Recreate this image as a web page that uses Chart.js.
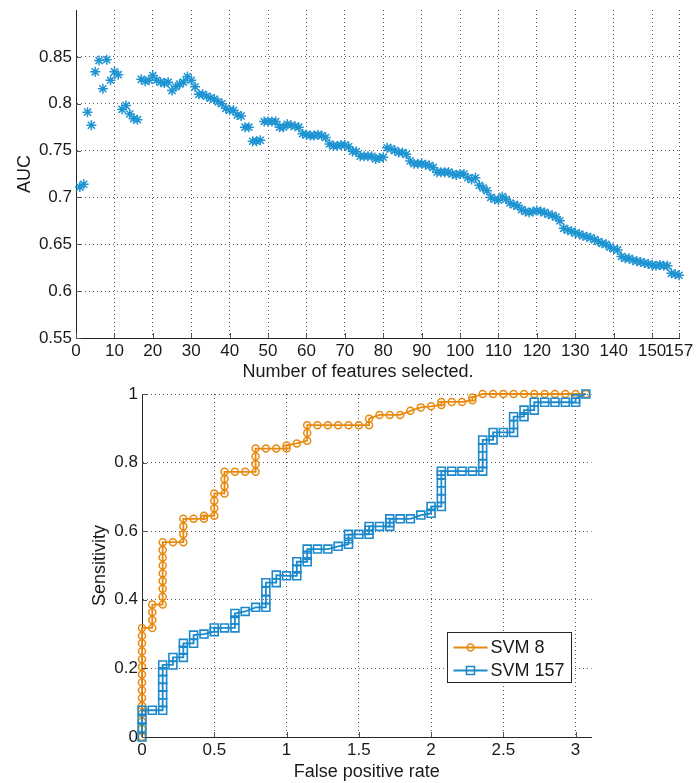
<!DOCTYPE html>
<html>
<head>
<meta charset="utf-8">
<script src="https://cdn.jsdelivr.net/npm/chart.js@4.4.0/dist/chart.umd.min.js"></script>
<style>
  html, body { margin: 0; padding: 0; background: #fff; }
  #wrap { position: relative; width: 696px; height: 783px; }
  #wrap canvas { position: absolute; left: 0; }
  #auc-chart { top: 0; }
  #roc-chart { top: 380px; }
</style>
</head>
<body>
<div id="wrap">
  <canvas id="auc-chart" width="696" height="384"></canvas>
  <canvas id="roc-chart" width="696" height="403"></canvas>
</div>
<script>
// AUC for 1..157 selected features
const aucValues = [
  0.711, 0.714, 0.791, 0.777, 0.834, 0.846, 0.816, 0.847, 0.825, 0.834,
  0.831, 0.794, 0.798, 0.789, 0.784, 0.783, 0.826, 0.824, 0.825, 0.830,
  0.825, 0.823, 0.822, 0.823, 0.814, 0.818, 0.821, 0.823, 0.829, 0.825,
  0.818, 0.810, 0.810, 0.808, 0.806, 0.805, 0.802, 0.800, 0.795, 0.793,
  0.793, 0.788, 0.787, 0.775, 0.775, 0.760, 0.760, 0.761, 0.781, 0.781,
  0.781, 0.781, 0.775, 0.775, 0.778, 0.777, 0.776, 0.775, 0.768, 0.767,
  0.766, 0.766, 0.767, 0.766, 0.764, 0.757, 0.755, 0.755, 0.756, 0.756,
  0.754, 0.749, 0.749, 0.744, 0.744, 0.744, 0.744, 0.741, 0.742, 0.743,
  0.753, 0.752, 0.750, 0.748, 0.748, 0.746, 0.739, 0.736, 0.736, 0.736,
  0.735, 0.734, 0.732, 0.727, 0.727, 0.727, 0.727, 0.725, 0.724, 0.725,
  0.725, 0.721, 0.719, 0.721, 0.713, 0.710, 0.707, 0.700, 0.698, 0.697,
  0.701, 0.698, 0.694, 0.692, 0.691, 0.687, 0.685, 0.684, 0.685, 0.686,
  0.685, 0.684, 0.682, 0.681, 0.679, 0.675, 0.667, 0.665, 0.664, 0.662,
  0.661, 0.659, 0.658, 0.657, 0.655, 0.653, 0.651, 0.650, 0.647, 0.645,
  0.644, 0.637, 0.635, 0.635, 0.633, 0.632, 0.631, 0.630, 0.629, 0.628,
  0.627, 0.628, 0.627, 0.627, 0.619, 0.618, 0.617
];
const aucTicks = [0.55, 0.6, 0.65, 0.7, 0.75, 0.8, 0.85];
const featureTicks = [0, 10, 20, 30, 40, 50, 60, 70, 80, 90, 100, 110, 120, 130, 140, 150, 157];

// ROC curves
const svm8Fpr = [
  0, 0, 0, 0, 0, 0, 0, 0, 0, 0, 0, 0, 0, 0, 0,
  0.071, 0.071, 0.071, 0.071,
  0.143, 0.143, 0.143, 0.143, 0.143, 0.143, 0.143, 0.143, 0.143,
  0.214,
  0.286, 0.286, 0.286, 0.286,
  0.357,
  0.429, 0.429,
  0.5, 0.5, 0.5, 0.5,
  0.571, 0.571, 0.571, 0.571,
  0.643, 0.714,
  0.786, 0.786, 0.786, 0.786,
  0.857, 0.929,
  1, 1,
  1.071,
  1.143, 1.143, 1.143,
  1.214, 1.286, 1.357, 1.429, 1.5,
  1.571, 1.571,
  1.643, 1.714, 1.786,
  1.857, 1.929, 2,
  2.071, 2.071,
  2.143, 2.214,
  2.286, 2.286,
  2.357, 2.429, 2.5, 2.571, 2.643, 2.714, 2.786, 2.857, 2.929, 3, 3.071
];
const svm8Tpr = [
  0, 0.023, 0.045, 0.068, 0.091, 0.114, 0.136, 0.159, 0.182, 0.205, 0.227, 0.25, 0.273, 0.295, 0.318,
  0.318, 0.341, 0.364, 0.386,
  0.386, 0.409, 0.432, 0.455, 0.477, 0.5, 0.523, 0.545, 0.568,
  0.568,
  0.568, 0.591, 0.614, 0.636,
  0.636,
  0.636, 0.645,
  0.645, 0.667, 0.689, 0.71,
  0.71, 0.731, 0.752, 0.773,
  0.773, 0.773,
  0.773, 0.795, 0.818, 0.841,
  0.841, 0.841,
  0.841, 0.85,
  0.856,
  0.864, 0.886, 0.909,
  0.909, 0.909, 0.909, 0.909, 0.909,
  0.909, 0.928,
  0.939, 0.939, 0.939,
  0.951, 0.961, 0.964,
  0.968, 0.977,
  0.977, 0.977,
  0.982, 0.99,
  1, 1, 1, 1, 1, 1, 1, 1, 1, 1, 1
];
const svm157Fpr = [
  0, 0, 0, 0,
  0.071,
  0.143, 0.143, 0.143, 0.143, 0.143, 0.143, 0.143,
  0.214, 0.214,
  0.286, 0.286, 0.286,
  0.357, 0.357,
  0.429,
  0.5, 0.5,
  0.571,
  0.643, 0.643, 0.643,
  0.714,
  0.786,
  0.857, 0.857, 0.857, 0.857,
  0.929, 0.929,
  1,
  1.071, 1.071, 1.071,
  1.143, 1.143, 1.143,
  1.214, 1.286,
  1.357,
  1.429, 1.429, 1.429,
  1.5,
  1.571, 1.571, 1.571,
  1.643,
  1.714, 1.714, 1.714,
  1.786, 1.857,
  1.929,
  2, 2,
  2.071, 2.071, 2.071, 2.071, 2.071, 2.071,
  2.143, 2.214, 2.286,
  2.357, 2.357, 2.357, 2.357, 2.357,
  2.429, 2.429,
  2.5,
  2.571, 2.571, 2.571,
  2.643, 2.643,
  2.714, 2.714,
  2.786, 2.857, 2.929,
  3, 3,
  3.071
];
const svm157Tpr = [
  0, 0.026, 0.052, 0.078,
  0.078,
  0.078, 0.1, 0.123, 0.145, 0.168, 0.19, 0.21,
  0.21, 0.232,
  0.232, 0.253, 0.273,
  0.273, 0.297,
  0.3,
  0.307, 0.318,
  0.318,
  0.318, 0.341, 0.36,
  0.366,
  0.378,
  0.378, 0.4, 0.425, 0.45,
  0.45, 0.472,
  0.47,
  0.47, 0.49, 0.511,
  0.511, 0.53, 0.548,
  0.548, 0.548,
  0.556,
  0.562, 0.578, 0.591,
  0.591,
  0.591, 0.603, 0.614,
  0.614,
  0.614, 0.625, 0.636,
  0.636, 0.636,
  0.647,
  0.652, 0.672,
  0.672, 0.695, 0.718, 0.741, 0.764, 0.775,
  0.775, 0.775, 0.775,
  0.775, 0.797, 0.82, 0.843, 0.866,
  0.866, 0.888,
  0.888,
  0.888, 0.911, 0.934,
  0.934, 0.953,
  0.953, 0.976,
  0.976, 0.976, 0.976,
  0.976, 0.986,
  1
];
const rocXTicks = [0, 0.5, 1, 1.5, 2, 2.5, 3];
const rocYTicks = [0, 0.2, 0.4, 0.6, 0.8, 1];

const STAR_BLUE = '#1f94d3';
const BLUE = '#1b89cc';
const ORANGE = '#e8890f';
const TEXT = '#1a1a1a';
const FONT = '"Liberation Sans", Arial, Helvetica, sans-serif';

Chart.defaults.font.family = FONT;
Chart.defaults.color = TEXT;

const tickFont = { size: 17 };
const titleFont = { size: 18 };
const gridOpts = { color: '#5a5a5a', lineWidth: 1, drawTicks: false };
const borderOpts = { display: true, color: '#262626', width: 1, dash: [1, 3] };

// fixed axis sizes so the plot boxes land where the original ones are
function fixedAxis(size, horizontal) {
    return scale => {
        if (horizontal) scale.height = size; else scale.width = size;
        scale.paddingLeft = 0; scale.paddingRight = 0;
        scale.paddingTop = 0; scale.paddingBottom = 0;
    };
}
function useTicks(list) {
    return scale => { scale.ticks = list.map(v => ({ value: v })); };
}

// short tick marks pointing into the plot, matlab style
const innerTicks = {
    id: 'innerTicks',
    afterDraw(chart) {
        const { ctx, chartArea } = chart;
        const xs = chart.scales.x, ys = chart.scales.y;
        ctx.save();
        ctx.strokeStyle = '#555';
        ctx.lineWidth = 1;
        ctx.beginPath();
        xs.ticks.forEach(t => {
            const px = Math.round(xs.getPixelForValue(t.value)) + 0.5;
            ctx.moveTo(px, chartArea.bottom);
            ctx.lineTo(px, chartArea.bottom - 5);
        });
        ys.ticks.forEach(t => {
            const py = Math.round(ys.getPixelForValue(t.value)) + 0.5;
            ctx.moveTo(chartArea.left, py);
            ctx.lineTo(chartArea.left + 5, py);
        });
        ctx.stroke();
        ctx.restore();
    }
};

const featureTitle = {
    id: 'featureTitle',
    afterDraw(chart) {
        const ctx = chart.ctx;
        ctx.save();
        ctx.font = '18px ' + FONT;
        ctx.fillStyle = TEXT;
        ctx.textAlign = 'center';
        ctx.textBaseline = 'middle';
        ctx.fillText('Number of features selected.', 358, 372);
        ctx.restore();
    }
};

const rocLegend = {
    id: 'rocLegend',
    afterDraw(chart) {
        const ctx = chart.ctx;
        const bx = 447.5, by = 252.5, bw = 124, bh = 50;
        ctx.save();
        ctx.fillStyle = '#fff';
        ctx.fillRect(bx, by, bw, bh);
        ctx.strokeStyle = '#262626';
        ctx.lineWidth = 1;
        ctx.strokeRect(bx, by, bw, bh);
        chart.data.datasets.forEach((ds, i) => {
            const y = by + 15 + i * 23;
            ctx.strokeStyle = ds.borderColor;
            ctx.lineWidth = 1.8;
            ctx.beginPath();
            ctx.moveTo(bx + 6, y);
            ctx.lineTo(bx + 40, y);
            ctx.stroke();
            ctx.lineWidth = 1.5;
            ctx.beginPath();
            if (ds.pointStyle === 'rect') {
                ctx.rect(bx + 19, y - 4, 8, 8);
            } else {
                ctx.arc(bx + 23, y, 3.4, 0, Math.PI * 2);
            }
            ctx.stroke();
            ctx.fillStyle = TEXT;
            ctx.font = '18px ' + FONT;
            ctx.textAlign = 'left';
            ctx.textBaseline = 'middle';
            ctx.fillText(ds.label, bx + 43, y + 1);
        });
        ctx.restore();
    }
};

new Chart(document.getElementById('auc-chart'), {
    type: 'scatter',
    data: {
        datasets: [{
            label: 'AUC',
            data: aucValues.map((v, i) => ({ x: i + 1, y: v })),
            showLine: false,
            pointStyle: 'star',
            pointRadius: 5,
            pointBorderWidth: 1.5,
            borderColor: STAR_BLUE,
            backgroundColor: STAR_BLUE,
            clip: false
        }]
    },
    options: {
        responsive: false,
        animation: false,
        events: [],
        layout: { padding: { top: 10, right: 17, left: 0, bottom: 0 } },
        plugins: { legend: { display: false }, tooltip: { enabled: false } },
        scales: {
            x: {
                type: 'linear', min: 0, max: 157,
                afterBuildTicks: useTicks(featureTicks),
                afterFit: fixedAxis(46, true),
                grid: gridOpts, border: borderOpts,
                ticks: { font: tickFont, padding: 3, autoSkip: false, maxRotation: 0, minRotation: 0, callback: v => String(v) }
            },
            y: {
                type: 'linear', min: 0.55, max: 0.9,
                afterBuildTicks: useTicks(aucTicks),
                afterFit: fixedAxis(76, false),
                grid: gridOpts, border: borderOpts,
                title: { display: true, text: 'AUC', font: titleFont, padding: { top: 14, bottom: 0 } },
                ticks: { font: tickFont, padding: 4, autoSkip: false, callback: v => String(Math.round(v * 100) / 100) }
            }
        }
    },
    plugins: [innerTicks, featureTitle]
});

new Chart(document.getElementById('roc-chart'), {
    type: 'scatter',
    data: {
        datasets: [{
            label: 'SVM 8',
            data: svm8Fpr.map((x, i) => ({ x: x, y: svm8Tpr[i] })),
            showLine: true,
            borderColor: ORANGE,
            borderWidth: 1.8,
            pointStyle: 'circle',
            pointRadius: 3.5,
            pointBorderWidth: 1.5,
            pointBorderColor: ORANGE,
            pointBackgroundColor: 'rgba(0,0,0,0)',
            order: 2,
            clip: false
        }, {
            label: 'SVM 157',
            data: svm157Fpr.map((x, i) => ({ x: x, y: svm157Tpr[i] })),
            showLine: true,
            borderColor: BLUE,
            borderWidth: 1.8,
            pointStyle: 'rect',
            pointRadius: 5.6,
            pointBorderWidth: 1.6,
            pointBorderColor: BLUE,
            pointBackgroundColor: 'rgba(0,0,0,0)',
            order: 1,
            clip: false
        }]
    },
    options: {
        responsive: false,
        animation: false,
        events: [],
        layout: { padding: { top: 14, right: 104.5, left: 0, bottom: 0 } },
        plugins: { legend: { display: false }, tooltip: { enabled: false } },
        scales: {
            x: {
                type: 'linear', min: 0, max: 3.11,
                afterBuildTicks: useTicks(rocXTicks),
                afterFit: fixedAxis(46, true),
                grid: gridOpts, border: borderOpts,
                title: { display: true, text: 'False positive rate', font: titleFont, padding: { top: 0, bottom: 0 } },
                ticks: { font: tickFont, padding: 3, autoSkip: false, maxRotation: 0, minRotation: 0, callback: v => String(v) }
            },
            y: {
                type: 'linear', min: 0, max: 1,
                afterBuildTicks: useTicks(rocYTicks),
                afterFit: fixedAxis(142, false),
                grid: gridOpts, border: borderOpts,
                title: { display: true, text: 'Sensitivity', font: titleFont, padding: { top: 89, bottom: 0 } },
                ticks: { font: tickFont, padding: 4, autoSkip: false, callback: v => String(v) }
            }
        }
    },
    plugins: [innerTicks, rocLegend]
});
</script>
</body>
</html>
